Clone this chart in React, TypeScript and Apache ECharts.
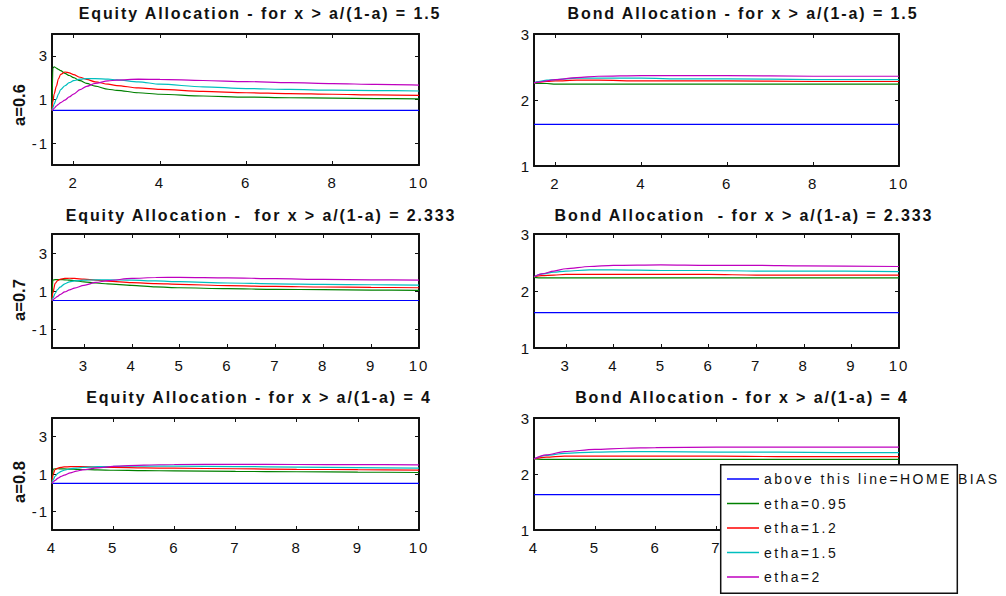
import React, { useEffect, useRef } from "react";
import * as echarts from "echarts";

// ---------- data ----------
const SERIES_NAMES = ["above this line=HOME BIAS", "etha=0.95", "etha=1.2", "etha=1.5", "etha=2"];
const COLORS = ["#0000ff", "#008000", "#ff0000", "#00bfbf", "#bf00bf"];

const TITLES = [
  "Equity Allocation - for x > a/(1-a) = 1.5",
  "Bond Allocation - for x > a/(1-a) = 1.5",
  "Equity Allocation -  for x > a/(1-a) = 2.333",
  "Bond Allocation  - for x > a/(1-a) = 2.333",
  "Equity Allocation - for x > a/(1-a) = 4",
  "Bond Allocation - for x > a/(1-a) = 4",
];
const ROW_LABELS = ["a=0.6", "a=0.7", "a=0.8"];

const xTicks06 = [2, 4, 6, 8, 10];
const xTicks07 = [3, 4, 5, 6, 7, 8, 9, 10];
const xTicks08 = [4, 5, 6, 7, 8, 9, 10];
// labels of the last panel that are not hidden behind the legend box
const xLabels08Visible = [4, 5, 6, 7];
const eqYTicks = [-1, 1, 3];
const bdYTicks = [1, 2, 3];

// Equity a=0.6
const eq06X = [1.5, 1.52, 1.55, 1.6, 1.65, 1.7, 1.8, 1.9, 2, 2.15, 2.3, 2.5, 2.8, 3, 3.5, 4, 5, 6, 7, 8, 9, 10];
const eq06HomeX = [1.5, 10];
const eq06Home = [0.5, 0.5];
const eq06Green = [0.5, 2.43, 2.5, 2.44, 2.38, 2.32, 2.2, 2.1, 2.0, 1.86, 1.74, 1.61, 1.47, 1.42, 1.31, 1.24, 1.16, 1.11, 1.08, 1.06, 1.04, 1.03];
const eq06Red = [0.5, 0.9, 1.25, 1.6, 1.95, 2.15, 2.26, 2.22, 2.14, 2.02, 1.92, 1.81, 1.7, 1.64, 1.53, 1.46, 1.37, 1.31, 1.27, 1.24, 1.21, 1.19];
const eq06Cyan = [0.5, 0.62, 0.8, 1.02, 1.25, 1.45, 1.63, 1.77, 1.86, 1.93, 1.96, 1.96, 1.93, 1.9, 1.81, 1.7, 1.58, 1.5, 1.46, 1.43, 1.41, 1.39];
const eq06Mag = [0.5, 0.54, 0.6, 0.7, 0.78, 0.86, 0.97, 1.12, 1.25, 1.45, 1.6, 1.74, 1.85, 1.89, 1.93, 1.92, 1.87, 1.82, 1.77, 1.73, 1.69, 1.66];

// Bond a=0.6
const bd06X = [1.5, 1.6, 1.8, 2, 2.5, 3, 4, 5, 6, 8, 10];
const bd06HomeX = [1.5, 10];
const bd06Home = [1.63, 1.63];
const bd06Green = [2.26, 2.25, 2.25, 2.24, 2.24, 2.24, 2.24, 2.24, 2.24, 2.24, 2.24];
const bd06Red = [2.26, 2.27, 2.28, 2.29, 2.3, 2.3, 2.29, 2.29, 2.29, 2.28, 2.28];
const bd06Cyan = [2.26, 2.28, 2.3, 2.31, 2.33, 2.33, 2.33, 2.32, 2.32, 2.31, 2.31];
const bd06Mag = [2.26, 2.27, 2.29, 2.31, 2.34, 2.36, 2.37, 2.37, 2.37, 2.36, 2.36];

// Equity a=0.7
const eq07X = [2.333, 2.35, 2.4, 2.45, 2.5, 2.6, 2.7, 2.8, 3, 3.25, 3.5, 4, 4.5, 5, 6, 7, 8, 9, 10];
const eq07HomeX = [2.333, 10];
const eq07Home = [0.5, 0.5];
const eq07Green = [0.5, 1.58, 1.6, 1.6, 1.6, 1.59, 1.57, 1.55, 1.48, 1.42, 1.37, 1.3, 1.22, 1.17, 1.12, 1.09, 1.07, 1.05, 1.03];
const eq07Red = [0.5, 0.9, 1.4, 1.55, 1.61, 1.66, 1.67, 1.66, 1.62, 1.57, 1.52, 1.44, 1.39, 1.35, 1.28, 1.24, 1.21, 1.19, 1.17];
const eq07Cyan = [0.5, 0.62, 0.88, 1.08, 1.2, 1.38, 1.48, 1.53, 1.57, 1.59, 1.59, 1.57, 1.53, 1.49, 1.42, 1.38, 1.35, 1.33, 1.31];
const eq07Mag = [0.5, 0.54, 0.63, 0.72, 0.81, 0.95, 1.06, 1.15, 1.3, 1.45, 1.55, 1.66, 1.71, 1.72, 1.69, 1.65, 1.61, 1.59, 1.57];

// Bond a=0.7
const bd07X = [2.333, 2.5, 2.75, 3, 3.5, 4, 5, 6, 7, 8, 10];
const bd07HomeX = [2.333, 10];
const bd07Home = [1.62, 1.62];
const bd07Green = [2.24, 2.23, 2.23, 2.23, 2.23, 2.23, 2.23, 2.23, 2.23, 2.23, 2.23];
const bd07Red = [2.25, 2.27, 2.28, 2.29, 2.29, 2.29, 2.29, 2.29, 2.28, 2.28, 2.28];
const bd07Cyan = [2.25, 2.3, 2.33, 2.35, 2.37, 2.37, 2.36, 2.36, 2.35, 2.35, 2.34];
const bd07Mag = [2.25, 2.3, 2.35, 2.39, 2.43, 2.45, 2.46, 2.45, 2.45, 2.44, 2.43];

// Equity a=0.8
const eq08X = [4, 4.02, 4.05, 4.1, 4.15, 4.2, 4.3, 4.4, 4.5, 4.75, 5, 5.5, 6, 7, 8, 9, 10];
const eq08HomeX = [4, 10];
const eq08Home = [0.5, 0.5];
const eq08Green = [0.5, 1.26, 1.28, 1.28, 1.27, 1.27, 1.26, 1.25, 1.24, 1.22, 1.2, 1.18, 1.17, 1.14, 1.12, 1.1, 1.08];
const eq08Red = [0.5, 1.0, 1.24, 1.32, 1.36, 1.38, 1.39, 1.39, 1.39, 1.37, 1.35, 1.33, 1.31, 1.28, 1.25, 1.23, 1.21];
const eq08Cyan = [0.5, 0.7, 0.88, 1.05, 1.14, 1.2, 1.28, 1.32, 1.35, 1.39, 1.41, 1.42, 1.42, 1.4, 1.37, 1.34, 1.31];
const eq08Mag = [0.5, 0.58, 0.66, 0.78, 0.87, 0.94, 1.06, 1.15, 1.22, 1.33, 1.41, 1.48, 1.51, 1.52, 1.51, 1.5, 1.49];

// Bond a=0.8
const bd08X = [4, 4.2, 4.5, 5, 5.5, 6, 7, 8, 9, 10];
const bd08HomeX = [4, 10];
const bd08Home = [1.63, 1.63];
const bd08Green = [2.27, 2.26, 2.26, 2.26, 2.26, 2.26, 2.26, 2.26, 2.26, 2.26];
const bd08Red = [2.27, 2.3, 2.32, 2.32, 2.32, 2.32, 2.32, 2.31, 2.31, 2.31];
const bd08Cyan = [2.27, 2.33, 2.37, 2.39, 2.4, 2.4, 2.39, 2.39, 2.38, 2.38];
const bd08Mag = [2.27, 2.34, 2.4, 2.44, 2.46, 2.47, 2.48, 2.48, 2.48, 2.48];

// ---------- panels ----------
const PANELS = [
  { box: [52, 34, 367, 131], xMin: 1.5, xTicks: xTicks06, xLabels: xTicks06, yMin: -2, yMax: 4, yTicks: eqYTicks,
    lines: [[eq06HomeX, eq06Home], [eq06X, eq06Green], [eq06X, eq06Red], [eq06X, eq06Cyan], [eq06X, eq06Mag]],
    title: [260, 13] },
  { box: [534, 34, 365, 132], xMin: 1.5, xTicks: xTicks06, xLabels: xTicks06, yMin: 1, yMax: 3, yTicks: bdYTicks,
    lines: [[bd06HomeX, bd06Home], [bd06X, bd06Green], [bd06X, bd06Red], [bd06X, bd06Cyan], [bd06X, bd06Mag]],
    title: [743, 13] },
  { box: [52, 234, 367, 114], xMin: 2.333, xTicks: xTicks07, xLabels: xTicks07, yMin: -2, yMax: 4, yTicks: eqYTicks,
    lines: [[eq07HomeX, eq07Home], [eq07X, eq07Green], [eq07X, eq07Red], [eq07X, eq07Cyan], [eq07X, eq07Mag]],
    title: [261, 215] },
  { box: [534, 234, 365, 114], xMin: 2.333, xTicks: xTicks07, xLabels: xTicks07, yMin: 1, yMax: 3, yTicks: bdYTicks,
    lines: [[bd07HomeX, bd07Home], [bd07X, bd07Green], [bd07X, bd07Red], [bd07X, bd07Cyan], [bd07X, bd07Mag]],
    title: [744, 215] },
  { box: [52, 418, 367, 112], xMin: 4, xTicks: xTicks08, xLabels: xTicks08, yMin: -2, yMax: 4, yTicks: eqYTicks,
    lines: [[eq08HomeX, eq08Home], [eq08X, eq08Green], [eq08X, eq08Red], [eq08X, eq08Cyan], [eq08X, eq08Mag]],
    title: [259, 397] },
  { box: [534, 418, 365, 112], xMin: 4, xTicks: xTicks08, xLabels: xLabels08Visible, yMin: 1, yMax: 3, yTicks: bdYTicks,
    lines: [[bd08HomeX, bd08Home], [bd08X, bd08Green], [bd08X, bd08Red], [bd08X, bd08Cyan], [bd08X, bd08Mag]],
    title: [742, 397] },
];
const ROW_LABEL_POS = [[19, 105], [19, 300], [19, 482]];

const FONT = "Liberation Sans";
const AXIS_COLOR = "#111";

const CSS = `
.mchart svg text { white-space: pre; }
.mchart svg text[style*="16px"] { letter-spacing: 1.9px; }
.mchart svg text[style*="15px"] { letter-spacing: 2px; }
.mchart svg text[style*="14px"] { letter-spacing: 2.4px; }
`;

function buildOption() {
  const grid: any[] = [];
  const xAxis: any[] = [];
  const yAxis: any[] = [];
  const series: any[] = [];
  const graphic: any[] = [];

  PANELS.forEach((p, g) => {
    const [left, top, width, height] = p.box;
    grid.push({ left, top, width, height, containLabel: false });
    const lineStyle = { color: AXIS_COLOR, width: 2 };
    const tick = (vals: number[]) => ({ show: true, inside: true, length: 4, customValues: vals, lineStyle: { color: AXIS_COLOR, width: 1 } });
    xAxis.push({
      type: "value", gridIndex: g, position: "bottom", min: p.xMin, max: 10,
      axisLine: { show: true, onZero: false, lineStyle },
      axisTick: tick(p.xTicks),
      axisLabel: { show: true, customValues: p.xLabels, margin: 10, fontSize: 15, fontFamily: FONT, color: "#111" },
      splitLine: { show: false },
    });
    xAxis.push({
      type: "value", gridIndex: g, position: "top", min: p.xMin, max: 10,
      axisLine: { show: true, onZero: false, lineStyle },
      axisTick: tick(p.xTicks),
      axisLabel: { show: false },
      splitLine: { show: false },
    });
    yAxis.push({
      type: "value", gridIndex: g, position: "left", min: p.yMin, max: p.yMax,
      axisLine: { show: true, onZero: false, lineStyle },
      axisTick: tick(p.yTicks),
      axisLabel: { show: true, customValues: p.yTicks, margin: 3, fontSize: 15, fontFamily: FONT, color: "#111" },
      splitLine: { show: false },
    });
    yAxis.push({
      type: "value", gridIndex: g, position: "right", min: p.yMin, max: p.yMax,
      axisLine: { show: true, onZero: false, lineStyle },
      axisTick: tick(p.yTicks),
      axisLabel: { show: false },
      splitLine: { show: false },
    });
    p.lines.forEach(([xs, ys], k) => {
      series.push({
        type: "line",
        name: SERIES_NAMES[k],
        xAxisIndex: 2 * g,
        yAxisIndex: 2 * g,
        data: (xs as number[]).map((x, i) => [x, (ys as number[])[i]]),
        showSymbol: false,
        symbol: "none",
        smooth: 0.3,
        smoothMonotone: "x",
        lineStyle: { color: COLORS[k], width: 1.2 },
        itemStyle: { color: COLORS[k] },
        z: 2 + k,
      });
    });
    graphic.push({
      type: "text",
      x: p.title[0],
      y: p.title[1],
      style: {
        text: TITLES[g], fontSize: 16, fontWeight: "bold", fontFamily: FONT,
        fill: "#111", align: "center", verticalAlign: "middle",
      },
    });
  });

  ROW_LABELS.forEach((t, i) => {
    graphic.push({
      type: "text",
      x: ROW_LABEL_POS[i][0],
      y: ROW_LABEL_POS[i][1],
      rotation: Math.PI / 2,
      style: {
        text: t, fontSize: 16.5, fontWeight: "bold", fontFamily: FONT,
        fill: "#111", align: "center", verticalAlign: "middle",
      },
    });
  });

  graphic.push({
    type: "rect",
    z: 50,
    shape: { x: 720.7, y: 464.7, width: 236.6, height: 128.6 },
    style: { fill: "#fff", stroke: "#111", lineWidth: 1.5 },
  });

  return {
    animation: false,
    backgroundColor: "#fff",
    grid,
    xAxis,
    yAxis,
    series,
    graphic,
    legend: {
      data: SERIES_NAMES,
      orient: "vertical",
      left: 727,
      top: 472,
      padding: 0,
      itemWidth: 32,
      itemHeight: 1.5,
      itemGap: 10.5,
      icon: "rect",
      selectedMode: false,
      z: 60,
      textStyle: { fontSize: 14, fontFamily: FONT, color: "#111" },
    },
  };
}

export default function App() {
  const ref = useRef<HTMLDivElement>(null);
  useEffect(() => {
    if (!ref.current) return;
    const chart = echarts.init(ref.current, undefined, { renderer: "svg" });
    chart.setOption(buildOption() as any);
    return () => chart.dispose();
  }, []);
  return (
    <>
      <style>{CSS}</style>
      <div
        ref={ref}
        className="mchart"
        style={{ position: "absolute", left: 0, top: 0, width: 1006, height: 596 }}
      />
    </>
  );
}
